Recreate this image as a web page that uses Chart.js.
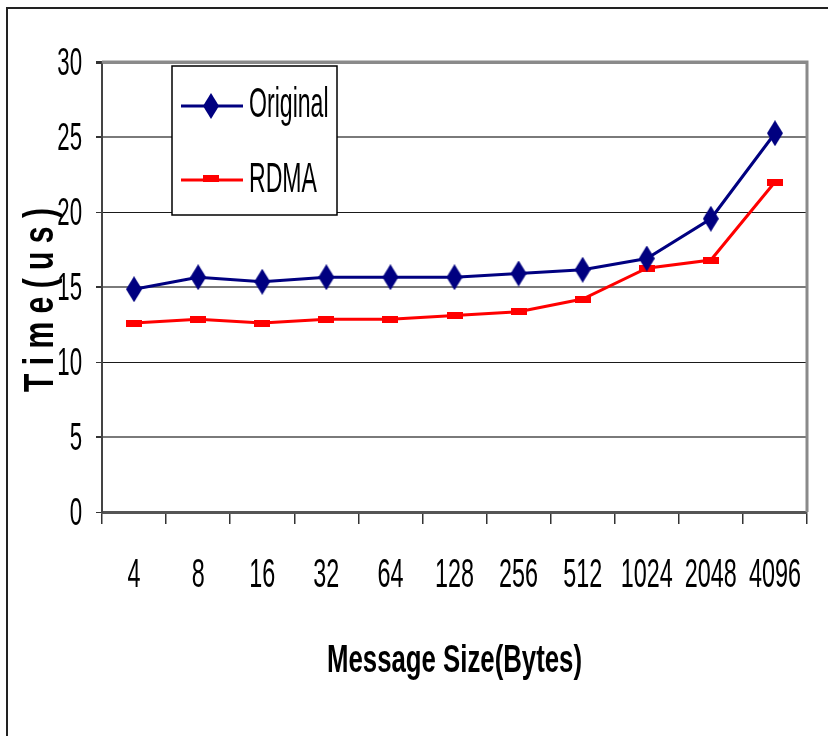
<!DOCTYPE html>
<html>
<head>
<meta charset="utf-8">
<script src="https://cdn.jsdelivr.net/npm/chart.js@4.4.1/dist/chart.umd.min.js"></script>
<style>
  html, body { margin: 0; padding: 0; background: #ffffff; }
  canvas { display: block; }
</style>
</head>
<body>
<canvas id="chart" width="828" height="736"></canvas>
<script>
// Message sizes in bytes (x categories)
const categories = ['4', '8', '16', '32', '64', '128', '256', '512', '1024', '2048', '4096'];
// Latency in microseconds
const originalTimes = [14.85, 15.65, 15.35, 15.65, 15.65, 15.65, 15.9, 16.15, 16.9, 19.55, 25.25];
const rdmaTimes     = [12.6, 12.85, 12.6, 12.85, 12.85, 13.1, 13.35, 14.2, 16.25, 16.8, 22.0];
const seriesNames = ['Original', 'RDMA'];
const yTickValues = [0, 5, 10, 15, 20, 25, 30];
const xTitle = 'Message Size(Bytes)';
const yTitle = 'T i m e ( u s )';

const NAVY = '#000080';
const RED = '#ff0000';
const FONT = '"Liberation Sans", Arial, sans-serif';

// Tall diamond marker for the first series
function diamondMarker() {
  const c = document.createElement('canvas');
  c.width = 16; c.height = 26;
  const g = c.getContext('2d');
  g.fillStyle = NAVY;
  g.beginPath();
  g.moveTo(8, 0); g.lineTo(16, 13); g.lineTo(8, 26); g.lineTo(0, 13);
  g.closePath();
  g.fill();
  return c;
}
// Flat bar marker for the second series
function barMarker() {
  const c = document.createElement('canvas');
  c.width = 16; c.height = 7;
  const g = c.getContext('2d');
  g.fillStyle = RED;
  g.fillRect(0, 0, 16, 7);
  return c;
}
const diamond = diamondMarker();
const bar = barMarker();

// Narrow-looking text: draw with a horizontal squeeze
function squeezedText(ctx, text, x, y, opts) {
  ctx.save();
  ctx.font = opts.font;
  ctx.fillStyle = '#000';
  ctx.textBaseline = 'alphabetic';
  let sx = opts.sx;
  if (opts.width) sx = opts.width / ctx.measureText(text).width;
  ctx.translate(x, y);
  if (opts.rotate) ctx.rotate(opts.rotate);
  ctx.scale(sx, 1);
  ctx.textAlign = opts.align || 'left';
  ctx.fillText(text, 0, 0);
  ctx.restore();
}

const decorations = {
  id: 'decorations',
  beforeDraw(chart) {
    const ctx = chart.ctx;
    ctx.save();
    ctx.fillStyle = '#fff';
    ctx.fillRect(0, 0, chart.width, chart.height);
    ctx.restore();
  },
  afterDatasetsDraw(chart) {
    const {ctx, chartArea: a} = chart;
    // plot frame: grey top and right edges
    ctx.save();
    ctx.strokeStyle = '#8a8a8a';
    ctx.lineWidth = 3;
    ctx.beginPath();
    ctx.moveTo(a.left, a.top);
    ctx.lineTo(a.right, a.top);
    ctx.lineTo(a.right, a.bottom);
    ctx.stroke();
    ctx.restore();
  },
  afterDraw(chart) {
    const {ctx, chartArea: a} = chart;
    const xs = chart.scales.x, ys = chart.scales.y;

    // outer frame (top and left)
    ctx.save();
    ctx.strokeStyle = '#222';
    ctx.lineWidth = 2;
    ctx.beginPath();
    ctx.moveTo(7, 736);
    ctx.lineTo(7, 8);
    ctx.lineTo(828, 8);
    ctx.stroke();
    ctx.restore();

    // y tick labels
    yTickValues.forEach(v => {
      squeezedText(ctx, String(v), 82, ys.getPixelForValue(v) + 13,
        {font: '39px ' + FONT, sx: 0.57, align: 'right'});
    });
    // x tick labels
    categories.forEach((c, i) => {
      squeezedText(ctx, c, xs.getPixelForValue(i), 587,
        {font: '41px ' + FONT, sx: 0.57, align: 'center'});
    });
    // axis titles
    squeezedText(ctx, xTitle, (a.left + a.right) / 2, 672,
      {font: 'bold 38px ' + FONT, width: 255, align: 'center'});
    squeezedText(ctx, yTitle, 53, 300,
      {font: 'bold 42px ' + FONT, width: 184, align: 'center', rotate: -Math.PI / 2});

    // legend box
    const box = {x: 172, y: 66, w: 165, h: 149};
    ctx.save();
    ctx.fillStyle = '#fff';
    ctx.fillRect(box.x, box.y, box.w, box.h);
    ctx.strokeStyle = '#000';
    ctx.lineWidth = 1.5;
    ctx.strokeRect(box.x, box.y, box.w, box.h);
    const rows = [106, 180];
    chart.data.datasets.forEach((ds, i) => {
      const y = rows[i];
      ctx.strokeStyle = ds.borderColor;
      ctx.lineWidth = 3;
      ctx.beginPath();
      ctx.moveTo(181, y);
      ctx.lineTo(243, y);
      ctx.stroke();
      const img = ds.pointStyle;
      const my = i === 0 ? y : y - 2;
      ctx.drawImage(img, 211 - img.width / 2, my - img.height / 2);
      squeezedText(ctx, ds.label, 249, y + 11 - (i === 0 ? 0 : -1),
        {font: '42px ' + FONT, sx: 0.55, align: 'left'});
    });
    ctx.restore();
  }
};

const gridColor = c => {
  const v = c.tick && c.tick.value;
  if (v === 30) return '#8a8a8a';
  return (v === 25 || v === 15 || v === 5) ? '#7a7a7a' : '#1a1a1a';
};
const gridWidth = c => {
  const v = c.tick && c.tick.value;
  if (v === 30) return 3;
  return (v === 25 || v === 15 || v === 5) ? 2 : 1;
};

new Chart(document.getElementById('chart'), {
  type: 'line',
  data: {
    labels: categories,
    datasets: [
      {
        label: seriesNames[0],
        data: originalTimes,
        borderColor: NAVY,
        backgroundColor: NAVY,
        borderWidth: 3,
        pointStyle: diamond,
        tension: 0,
        fill: false
      },
      {
        label: seriesNames[1],
        data: rdmaTimes,
        borderColor: RED,
        backgroundColor: RED,
        borderWidth: 3,
        pointStyle: bar,
        tension: 0,
        fill: false
      }
    ]
  },
  options: {
    responsive: false,
    animation: false,
    devicePixelRatio: 1,
    layout: {padding: {left: 0, top: 62, right: 21, bottom: 0}},
    plugins: {legend: {display: false}, tooltip: {enabled: false}, title: {display: false}},
    scales: {
      x: {
        type: 'category',
        offset: true,
        grid: {offset: true, drawOnChartArea: false, drawTicks: true, tickLength: 12, color: '#333', lineWidth: 1.5},
        border: {display: true, color: '#555', width: 3},
        ticks: {display: false},
        afterFit: s => { s.height = 736 - 512; }
      },
      y: {
        min: 0,
        max: 30,
        ticks: {display: false, stepSize: 5},
        grid: {color: gridColor, lineWidth: gridWidth, tickLength: 6, drawTicks: true, tickColor: '#333'},
        border: {display: true, color: '#444', width: 2},
        afterFit: s => { s.width = 102; }
      }
    }
  },
  plugins: [decorations]
});
</script>
</body>
</html>
